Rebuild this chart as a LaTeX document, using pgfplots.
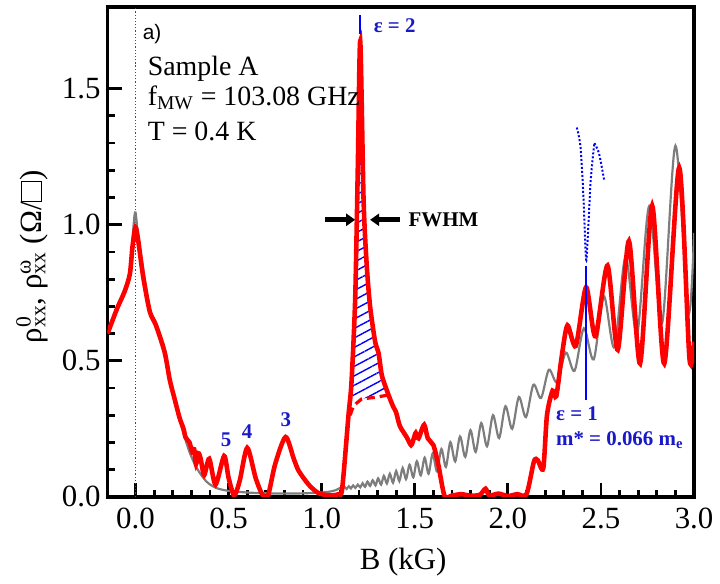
\documentclass[border=0pt]{standalone}
\usepackage{fontspec}
\setmainfont{Liberation Serif}
\setsansfont{Liberation Sans}
\usepackage{pgfplots}
\pgfplotsset{compat=1.18}
\usetikzlibrary{arrows.meta,patterns.meta}
\definecolor{tblue}{RGB}{25,25,200}
\definecolor{cgray}{RGB}{125,125,125}
\newcommand{\supsub}[2]{\rlap{\textsuperscript{#1}}\textsubscript{#2}}
\newcommand{\sqbox}{{\setlength{\fboxsep}{0pt}\setlength{\fboxrule}{0.6pt}\fbox{\rule{0pt}{0.62em}\rule{0.62em}{0pt}}}}
\begin{document}
\begin{tikzpicture}
\begin{axis}[
 scale only axis, width=294.5pt, height=246pt,
 xmin=-0.15, xmax=3.0, ymin=0, ymax=1.8,
 axis line style={line width=1.8pt},
 xtick={0,0.5,1.0,1.5,2.0,2.5,3.0}, ytick={0,0.5,1.0,1.5},
 minor x tick num=4, minor y tick num=4,
 tick align=inside, xtick pos=left, ytick pos=left,
 major tick length=7pt, minor tick length=3.5pt,
 tick style={line width=1.4pt, black},
 /pgf/number format/assume math mode=true,
 xticklabel style={/pgf/number format/fixed,/pgf/number format/fixed zerofill,/pgf/number format/precision=1, yshift=-2pt},
 yticklabel style={/pgf/number format/fixed,/pgf/number format/fixed zerofill,/pgf/number format/precision=1},
 tick label style={font=\fontsize{15.5}{16}\selectfont},
 label style={font=\fontsize{15.5}{16}\selectfont},
 xlabel={B (kG)},
 xlabel style={at={(rel axis cs:0.504,-0.134)}, anchor=center},
 ylabel={ρ\supsub{0}{xx}, ρ\supsub{ω}{xx} (Ω/\sqbox)},
 ylabel style={at={(rel axis cs:-0.129,0.49)}, anchor=center},
]
% dotted line at B=0
\addplot[black!70, densely dotted, line width=0.6pt] coordinates {(0,0) (0,1.8)};
% hatched area
\addplot[draw=none, pattern={Lines[angle=28, distance=4.2pt, line width=0.7pt]}, pattern color=blue] coordinates {
(1.165,0.343) (1.18,0.73) (1.194,1.21) (1.197,1.26) (1.216,1.26) (1.225,1.09) (1.242,0.85) (1.26,0.70) (1.287,0.57) (1.305,0.53) (1.322,0.45) (1.34,0.41) (1.348,0.375) (1.30,0.368) (1.25,0.365) (1.215,0.36) (1.19,0.345)};
% gray curve rho0
\addplot[cgray, line width=1.1pt, smooth, tension=0.5] coordinates {
(-0.15,0.60)(-0.10,0.69)(-0.05,0.78)(-0.03,0.81)(-0.01,1.00)(0.0,1.045)(0.014,0.96)(0.041,0.84)(0.077,0.69)(0.11,0.64)(0.157,0.545)(0.184,0.44)(0.22,0.325)(0.255,0.24)(0.29,0.165)(0.33,0.105)(0.38,0.057)(0.433,0.033)(0.50,0.022)(0.60,0.016)(0.70,0.013)(0.80,0.012)(0.90,0.013)(1.00,0.016)(1.05,0.02)(1.08,0.026)
(1.101,0.033)(1.112,0.028)(1.123,0.036)(1.134,0.029)(1.146,0.039)(1.157,0.031)(1.169,0.042)(1.181,0.033)(1.194,0.045)(1.207,0.035)(1.220,0.050)(1.233,0.037)(1.246,0.056)(1.260,0.040)(1.274,0.061)(1.289,0.042)(1.303,0.068)(1.319,0.045)(1.334,0.077)(1.350,0.049)(1.366,0.085)(1.383,0.052)(1.400,0.095)(1.417,0.058)(1.435,0.106)(1.453,0.065)(1.472,0.118)(1.492,0.072)(1.511,0.131)(1.532,0.079)(1.553,0.144)(1.574,0.085)(1.596,0.159)(1.619,0.094)(1.643,0.176)(1.667,0.110)(1.691,0.201)(1.717,0.130)(1.743,0.222)(1.771,0.147)(1.799,0.245)(1.827,0.165)(1.857,0.271)(1.888,0.186)(1.920,0.300)(1.953,0.216)(1.987,0.333)(2.023,0.250)(2.059,0.367)(2.097,0.293)(2.137,0.412)(2.178,0.363)(2.220,0.467)(2.264,0.421)(2.311,0.530)(2.358,0.463)(2.408,0.619)(2.461,0.505)(2.515,0.738)(2.572,0.550)(2.632,0.882)(2.694,0.598)(2.759,1.068)(2.828,0.638)(2.900,1.290)(2.970,0.680)(3.000,0.970)};
% red curve rho omega
\addplot[red, line width=2.3pt, smooth, tension=0.45] coordinates {
(-0.15,0.60)(-0.10,0.69)(-0.057,0.757)(-0.03,0.82)(-0.016,0.92)(0.0,0.99)(0.014,0.945)(0.041,0.81)(0.077,0.68)(0.11,0.63)(0.157,0.53)(0.184,0.43)(0.21,0.36)(0.237,0.29)(0.258,0.25)(0.268,0.22)(0.278,0.21)(0.29,0.20)(0.305,0.165)(0.315,0.175)(0.325,0.12)(0.338,0.16)(0.350,0.14)(0.369,0.08)(0.396,0.14)(0.43,0.045)(0.476,0.15)(0.50,0.07)(0.53,0.005)(0.56,0.06)(0.60,0.18)(0.645,0.07)(0.68,0.01)(0.71,0.0)(0.75,0.12)(0.806,0.22)(0.85,0.14)(0.877,0.095)(0.93,0.045)(0.98,0.015)(1.04,0.005)(1.09,0.01)(1.11,0.03)(1.144,0.30)(1.16,0.42)(1.18,0.73)(1.194,1.21)(1.207,1.675)(1.225,1.09)(1.242,0.85)(1.26,0.70)(1.287,0.57)(1.305,0.53)(1.322,0.45)(1.34,0.41)(1.367,0.36)(1.385,0.33)(1.40,0.31)(1.42,0.26)(1.456,0.22)(1.48,0.19)(1.495,0.215)(1.505,0.235)(1.52,0.215)(1.55,0.265)(1.57,0.215)(1.60,0.19)(1.626,0.12)(1.66,0.003)(1.70,0.005)(1.75,0.01)(1.80,0.004)(1.85,0.008)(1.88,0.03)(1.90,0.005)(1.95,0.012)(2.0,0.003)(2.05,0.01)(2.10,0.01)(2.14,0.13)(2.16,0.135)(2.19,0.105)(2.21,0.30)(2.24,0.39)(2.26,0.37)(2.29,0.52)(2.32,0.63)(2.365,0.555)(2.42,0.77)(2.47,0.59)(2.535,0.85)(2.59,0.54)(2.65,0.94)(2.71,0.49)(2.775,1.07)(2.84,0.49)(2.92,1.21)(2.975,0.51)(3.0,0.57)};
% dashed red base
\addplot[red, line width=1.6pt, dash pattern=on 4pt off 2.5pt] coordinates {(1.153,0.30)(1.171,0.335)(1.215,0.36)(1.28,0.365)(1.35,0.373)};
% blue dotted curve
\addplot[blue, densely dotted, line width=1pt, smooth] coordinates {(2.37,1.357)(2.39,1.286)(2.406,1.10)(2.42,0.872)(2.431,0.98)(2.445,1.164)(2.463,1.29)(2.468,1.295)(2.49,1.26)(2.517,1.164)};
% blue vertical markers
\addplot[blue, line width=1.1pt] coordinates {(2.42,0.85)(2.42,0.355)};
\addplot[blue, line width=1.1pt] coordinates {(1.207,1.70)(1.207,1.77)};
% FWHM arrows
\draw[-{Triangle[length=4.5pt,width=6pt]}, line width=2.4pt] (axis cs:1.02,1.018) -- (axis cs:1.18,1.018);
\draw[-{Triangle[length=4.5pt,width=6pt]}, line width=2.4pt] (axis cs:1.42,1.018) -- (axis cs:1.26,1.018);
\node[anchor=west, font=\fontsize{10.5}{12}\selectfont\bfseries, inner sep=0pt] at (axis cs:1.465,1.018) {FWHM};
% texts
\node[anchor=west, font=\sffamily\fontsize{10.5}{12}\selectfont, inner sep=0pt] at (axis cs:0.037,1.70) {a)};
\node[anchor=base west, font=\fontsize{14}{16}\selectfont, inner sep=0pt] at (axis cs:0.064,1.547) {Sample A};
\node[anchor=base west, font=\fontsize{14}{16}\selectfont, inner sep=0pt] at (axis cs:0.064,1.438) {f\textsubscript{MW} = 103.08 GHz};
\node[anchor=base west, font=\fontsize{14}{16}\selectfont, inner sep=0pt] at (axis cs:0.064,1.31) {T = 0.4 K};
\node[anchor=west, text=tblue, font=\fontsize{10.5}{12}\selectfont\bfseries, inner sep=0pt] at (axis cs:1.278,1.73) {ε = 2};
\node[text=tblue, font=\fontsize{10.5}{12}\selectfont\bfseries, inner sep=0pt] at (axis cs:0.487,0.21) {5};
\node[text=tblue, font=\fontsize{10.5}{12}\selectfont\bfseries, inner sep=0pt] at (axis cs:0.60,0.24) {4};
\node[text=tblue, font=\fontsize{10.5}{12}\selectfont\bfseries, inner sep=0pt] at (axis cs:0.807,0.282) {3};
\node[anchor=west, text=tblue, font=\fontsize{10.5}{12}\selectfont\bfseries, inner sep=0pt] at (axis cs:2.257,0.306) {ε = 1};
\node[anchor=west, text=tblue, font=\fontsize{10.5}{12}\selectfont\bfseries, inner sep=0pt] at (axis cs:2.257,0.209) {m* = 0.066 m\textsubscript{e}};
\coordinate (bbll) at (rel axis cs:-0.1834,-0.1687);
\coordinate (bbur) at (rel axis cs:1.039,1.0142);
\end{axis}
\path (bbll) rectangle (bbur);
\end{tikzpicture}
\end{document}
